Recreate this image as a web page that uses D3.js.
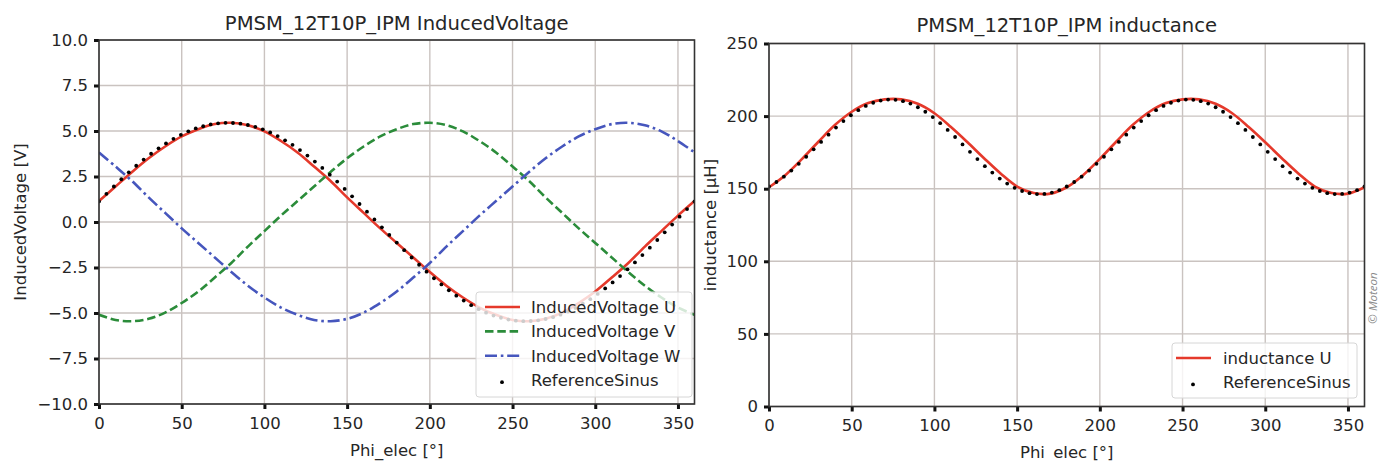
<!DOCTYPE html>
<html>
<head>
<meta charset="utf-8">
<script src="https://cdn.jsdelivr.net/npm/d3@7"></script>
<style>
  body { margin: 0; background: #fff; }
  svg { display: block; font-family: "DejaVu Sans", sans-serif; }
</style>
</head>
<body>
<svg id="chart" width="1380" height="461"></svg>
<script>
// ---------- data ----------
// electrical angle grid of the simulated curves [°]
const phiSim = [0,10,20,30,40,50,60,70,80,90,100,110,120,130,140,150,160,170,180,
                190,200,210,220,230,240,250,260,270,280,290,300,310,320,330,340,350,360];

// induced voltage of the three phases [V]
const voltageU = [1.15,1.95,2.75,3.5,4.15,4.7,5.1,5.38,5.45,5.32,4.98,4.45,3.82,3.05,2.25,1.35,0.5,-0.35,-1.15,
                  -1.95,-2.75,-3.5,-4.15,-4.7,-5.1,-5.38,-5.45,-5.32,-4.98,-4.45,-3.82,-3.05,-2.25,-1.35,-0.5,0.35,1.15];
const voltageV = [-5.1,-5.38,-5.45,-5.32,-4.98,-4.45,-3.82,-3.05,-2.25,-1.35,-0.5,0.35,1.15,1.95,2.75,3.5,4.15,4.7,5.1,
                  5.38,5.45,5.32,4.98,4.45,3.82,3.05,2.25,1.35,0.5,-0.35,-1.15,-1.95,-2.75,-3.5,-4.15,-4.7,-5.1];
const voltageW = [3.82,3.05,2.25,1.35,0.5,-0.35,-1.15,-1.95,-2.75,-3.5,-4.15,-4.7,-5.1,-5.38,-5.45,-5.32,-4.98,-4.45,-3.82,
                  -3.05,-2.25,-1.35,-0.5,0.35,1.15,1.95,2.75,3.5,4.15,4.7,5.1,5.38,5.45,5.32,4.98,4.45,3.82];

// inductance of phase U [µH]
const inductanceU = [151,159.5,170.5,182.5,194,203,209,211.5,211.5,208.5,202,192.5,182,171,160.5,151.5,147,146.6,151,
                     159.5,170.5,182.5,194,203,209,211.5,211.5,208.5,202,192.5,182,171,160.5,151.5,147,146.6,151];

// angle grid of the reference sine samples [°]
const phiRef = [0,4.5,9,13.5,18,22.5,27,31.5,36,40.5,45,49.5,54,58.5,63,67.5,72,76.5,81,85.5,
                90,94.5,99,103.5,108,112.5,117,121.5,126,130.5,135,139.5,144,148.5,153,157.5,162,166.5,171,175.5,
                180,184.5,189,193.5,198,202.5,207,211.5,216,220.5,225,229.5,234,238.5,243,247.5,252,256.5,261,265.5,
                270,274.5,279,283.5,288,292.5,297,301.5,306,310.5,315,319.5,324,328.5,333,337.5,342,346.5,351,355.5,360];

// reference sine for the induced voltage [V]
const refVoltage = [1.13,1.55,1.95,2.35,2.73,3.09,3.43,3.75,4.05,4.32,4.57,4.79,4.98,5.14,5.26,5.36,5.42,5.45,5.44,5.40,
                    5.33,5.23,5.09,4.92,4.72,4.49,4.24,3.95,3.65,3.32,2.97,2.60,2.22,1.82,1.41,0.99,0.57,0.14,-0.29,-0.71,
                    -1.13,-1.55,-1.95,-2.35,-2.73,-3.09,-3.43,-3.75,-4.05,-4.32,-4.57,-4.79,-4.98,-5.14,-5.26,-5.36,-5.42,-5.45,-5.44,-5.40,
                    -5.33,-5.23,-5.09,-4.92,-4.72,-4.49,-4.24,-3.95,-3.65,-3.32,-2.97,-2.60,-2.22,-1.82,-1.41,-0.99,-0.57,-0.14,0.29,0.71,1.13];

// reference sine for the inductance [µH]
const refInductance = [151.5,154.6,158.3,162.5,167.1,172.0,177.1,182.2,187.2,192.1,196.6,200.6,204.1,207.0,209.2,210.7,211.4,211.2,210.3,208.6,
                       206.1,203.0,199.3,195.1,190.5,185.6,180.5,175.4,170.4,165.5,161.1,157.0,153.5,150.6,148.4,146.9,146.3,146.4,147.3,149.0,
                       151.5,154.6,158.3,162.5,167.1,172.0,177.1,182.2,187.2,192.1,196.6,200.6,204.1,207.0,209.2,210.7,211.4,211.2,210.3,208.6,
                       206.1,203.0,199.3,195.1,190.5,185.6,180.5,175.4,170.4,165.5,161.1,157.0,153.5,150.6,148.4,146.9,146.3,146.4,147.3,149.0,151.5];

// axis ticks
const xTicks = [0,50,100,150,200,250,300,350];
const xTickLabels = ["0","50","100","150","200","250","300","350"];
const yTicksVoltage = [-10,-7.5,-5,-2.5,0,2.5,5,7.5,10];
const yTickLabelsVoltage = ["\u221210.0","\u22127.5","\u22125.0","\u22122.5","0.0","2.5","5.0","7.5","10.0"];
const yTicksInductance = [0,50,100,150,200,250];
const yTickLabelsInductance = ["0","50","100","150","200","250"];

// ---------- drawing ----------
const svg = d3.select("#chart");
const FONT = 16.5;
const TEXT = "#262626";
const GRID = "#cac3c0";

function panel(cfg) {
  const x = d3.scaleLinear().domain([0, 360]).range([cfg.left, cfg.right]);
  const y = d3.scaleLinear().domain(cfg.yDomain).range([cfg.bottom, cfg.top]);
  const g = svg.append("g");
  const clipId = "clip-" + cfg.id;
  svg.append("clipPath").attr("id", clipId)
    .append("rect").attr("x", cfg.left).attr("y", cfg.top)
    .attr("width", cfg.right - cfg.left).attr("height", cfg.bottom - cfg.top);

  // grid
  g.selectAll(".gx").data(xTicks).join("line")
    .attr("x1", d => x(d)).attr("x2", d => x(d))
    .attr("y1", cfg.top).attr("y2", cfg.bottom)
    .attr("stroke", GRID).attr("stroke-width", 1.4);
  g.selectAll(".gy").data(cfg.yTicks).join("line")
    .attr("x1", cfg.left).attr("x2", cfg.right)
    .attr("y1", d => y(d)).attr("y2", d => y(d))
    .attr("stroke", GRID).attr("stroke-width", 1.4);

  // axes
  const xAxis = d3.axisBottom(x).tickValues(xTicks)
    .tickFormat((d, i) => xTickLabels[i]).tickSize(5).tickPadding(8);
  const yAxis = d3.axisLeft(y).tickValues(cfg.yTicks)
    .tickFormat((d, i) => cfg.yLabels[i]).tickSize(5).tickPadding(6);
  const ax = g.append("g").attr("transform", `translate(0,${cfg.bottom})`).call(xAxis);
  const ay = g.append("g").attr("transform", `translate(${cfg.left},0)`).call(yAxis);
  [ax, ay].forEach(a => {
    a.select(".domain").remove();
    a.selectAll(".tick line").attr("stroke", "#111").attr("stroke-width", 3);
    a.selectAll(".tick text").attr("fill", TEXT).style("font-size", FONT + "px")
      .style("font-family", "DejaVu Sans, sans-serif");
  });

  // curves
  const plot = g.append("g").attr("clip-path", `url(#${clipId})`);
  cfg.series.forEach(s => {
    const line = d3.line().x((d, i) => x(phiSim[i])).y(d => y(d)).curve(d3.curveCatmullRom.alpha(0.5));
    plot.append("path").datum(s.values)
      .attr("fill", "none").attr("stroke", s.color).attr("stroke-width", s.width)
      .attr("stroke-dasharray", s.dash || null)
      .attr("d", line);
  });
  plot.selectAll(".ref").data(cfg.ref).join("circle")
    .attr("cx", (d, i) => x(phiRef[i])).attr("cy", d => y(d)).attr("r", 1.9)
    .attr("fill", "#000");

  // frame
  g.append("rect").attr("x", cfg.left).attr("y", cfg.top)
    .attr("width", cfg.right - cfg.left).attr("height", cfg.bottom - cfg.top)
    .attr("fill", "none").attr("stroke", "#333").attr("stroke-width", 1.6);

  // titles and labels
  const cx = (cfg.left + cfg.right) / 2;
  g.append("text").attr("x", cx).attr("y", cfg.titleY).attr("text-anchor", "middle")
    .attr("fill", TEXT).style("font-size", "19.6px").text(cfg.title);
  g.append("text").attr("x", cx).attr("y", cfg.xLabelY).attr("text-anchor", "middle")
    .attr("fill", TEXT).style("font-size", FONT + "px").text("Phi_elec [°]");
  g.append("text")
    .attr("transform", `translate(${cfg.yLabelX},${(cfg.top + cfg.bottom) / 2}) rotate(-90)`)
    .attr("text-anchor", "middle").attr("fill", TEXT).style("font-size", FONT + "px")
    .text(cfg.yLabel);

  // legend
  const L = cfg.legend;
  const lg = g.append("g");
  lg.append("rect").attr("x", L.x).attr("y", L.y).attr("width", L.w).attr("height", L.h)
    .attr("rx", 3).attr("fill", "#fff").attr("fill-opacity", 0.8)
    .attr("stroke", "#d6d6d6").attr("stroke-width", 1);
  L.items.forEach((it, i) => {
    const cy = L.y + L.first + i * L.step;
    if (it.dot) {
      lg.append("circle").attr("cx", L.hx + 17).attr("cy", cy + 2).attr("r", 1.9).attr("fill", "#000");
    } else {
      lg.append("line").attr("x1", L.hx).attr("x2", L.hx + 35).attr("y1", cy).attr("y2", cy)
        .attr("stroke", it.color).attr("stroke-width", it.width)
        .attr("stroke-dasharray", it.dash || null);
    }
    lg.append("text").attr("x", L.tx).attr("y", cy).attr("dy", "0.36em")
      .attr("fill", TEXT).style("font-size", FONT + "px").text(it.label);
  });
}

const RED = "#e5392b", GREEN = "#2b8c3a", BLUE = "#4656bd";

panel({
  id: "voltage",
  left: 99, right: 694.5, top: 40, bottom: 404,
  yDomain: [-10, 10], yTicks: yTicksVoltage, yLabels: yTickLabelsVoltage,
  title: "PMSM_12T10P_IPM InducedVoltage", titleY: 30,
  xLabelY: 456, yLabel: "InducedVoltage [V]", yLabelX: 26,
  series: [
    { values: voltageU, color: RED, width: 2.6 },
    { values: voltageV, color: GREEN, width: 2.6, dash: "8.5,3.8" },
    { values: voltageW, color: BLUE, width: 2.6, dash: "12,3.8,2.6,3.8" }
  ],
  ref: refVoltage,
  legend: {
    x: 476, y: 292, w: 216, h: 105, first: 15, step: 24.4, hx: 485, tx: 531,
    items: [
      { label: "InducedVoltage U", color: RED, width: 2.6 },
      { label: "InducedVoltage V", color: GREEN, width: 2.6, dash: "8.5,3.8" },
      { label: "InducedVoltage W", color: BLUE, width: 2.6, dash: "12,3.8,2.6,3.8" },
      { label: "ReferenceSinus", dot: true }
    ]
  }
});

panel({
  id: "inductance",
  left: 769, right: 1364.5, top: 43.5, bottom: 406.5,
  yDomain: [0, 250], yTicks: yTicksInductance, yLabels: yTickLabelsInductance,
  title: "PMSM_12T10P_IPM inductance", titleY: 31.5,
  xLabelY: 458, yLabel: "inductance [µH]", yLabelX: 716,
  series: [
    { values: inductanceU, color: RED, width: 2.6 }
  ],
  ref: refInductance,
  legend: {
    x: 1172, y: 343, w: 185, h: 55, first: 15, step: 24.4, hx: 1176, tx: 1223,
    items: [
      { label: "inductance U", color: RED, width: 2.6 },
      { label: "ReferenceSinus", dot: true }
    ]
  }
});

// copyright note along the right edge
svg.append("text")
  .attr("transform", "translate(1377,298) rotate(-90)")
  .attr("text-anchor", "middle").attr("fill", "#8a8a8a")
  .style("font-family", "'Open Sans', sans-serif").style("font-style", "italic")
  .style("font-size", "11.5px").text("© Moteon");
</script>
</body>
</html>
